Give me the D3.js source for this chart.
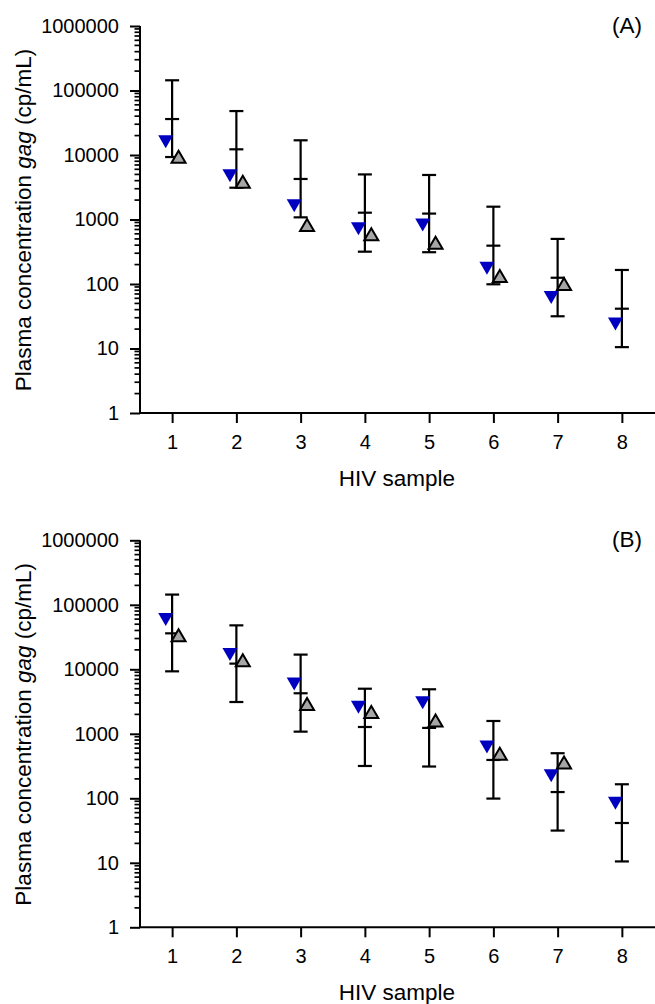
<!DOCTYPE html>
<html>
<head>
<meta charset="utf-8">
<script src="https://cdn.jsdelivr.net/npm/d3@7"></script>
<style>
  html, body { margin: 0; padding: 0; background: #fff; }
  svg text { font-family: Arial, "Liberation Sans", sans-serif; fill: #000; }
</style>
</head>
<body>
<svg id="chart" width="655" height="1004"></svg>
<script>
// ---- Data ----
const samples = [1, 2, 3, 4, 5, 6, 7, 8];
// Reference range (error bar): upper, middle, lower (same in both panels)
const rangeHigh = [144000, 48000, 16900, 5000, 4900, 1580, 500, 165];
const rangeMid  = [36100, 12250, 4250, 1275, 1235, 393, 125, 41.4];
const rangeLow  = [9300, 3110, 1080, 317, 311, 99, 31.6, 10.5];
// Panel A
const blueA = [16100, 4780, 1640, 720, 820, 175, 62, 24];
const grayA = [9400, 3860, 822, 590, 437, 133, 100, null];
// Panel B
const blueB = [59100, 16900, 5930, 2570, 3040, 624, 223, 84];
const grayB = [33700, 13800, 2900, 2180, 1610, 491, 360, null];
const yTickValues = [1, 10, 100, 1000, 10000, 100000, 1000000];
const xLabel = "HIV sample";
const panelLabels = ["(A)", "(B)"];

const svg = d3.select("#chart");

const x = d3.scaleLinear().domain([0.5, 8.5]).range([140, 654]);

function drawPanel(offsetY, blue, gray, label) {
  const g = svg.append("g").attr("transform", `translate(0,${offsetY})`);
  const y = d3.scaleLog().domain([1, 1000000]).range([413, 26]);

  // minor ticks
  const minor = [];
  for (let e = 0; e < 6; e++) for (let k = 2; k <= 9; k++) minor.push(k * Math.pow(10, e));
  g.append("g").selectAll("line").data(minor).join("line")
    .attr("x1", 134.5).attr("x2", 140)
    .attr("y1", d => y(d)).attr("y2", d => y(d))
    .attr("stroke", "#000").attr("stroke-width", 1.7);

  // y axis
  const yAxis = d3.axisLeft(y).tickValues(yTickValues).tickFormat(d3.format("d"))
    .tickSize(10).tickPadding(11).tickSizeOuter(0);
  const ya = g.append("g").attr("transform", "translate(140,0)").call(yAxis);
  ya.select(".domain").attr("stroke-width", 2).attr("d", `M0,${y(1000000)}V${y(1)}`);
  ya.selectAll(".tick line").attr("stroke-width", 2);
  ya.selectAll(".tick text").attr("font-size", 20).attr("font-family", "Arial, 'Liberation Sans', sans-serif");

  // x axis
  const xAxis = d3.axisBottom(x).tickValues(samples).tickFormat(d3.format("d"))
    .tickSize(10).tickPadding(12).tickSizeOuter(0);
  const xa = g.append("g").attr("transform", "translate(0,413)").call(xAxis);
  xa.select(".domain").attr("stroke-width", 2).attr("d", `M${x(0.5)-1},0H655`);
  xa.selectAll(".tick line").attr("stroke-width", 2);
  xa.selectAll(".tick text").attr("font-size", 20).attr("font-family", "Arial, 'Liberation Sans', sans-serif");

  // axis titles
  g.append("text").attr("x", 397).attr("y", 486).attr("text-anchor", "middle")
    .attr("font-size", 22.5).text(xLabel);
  const yt = g.append("text").attr("transform", "translate(31,220) rotate(-90)")
    .attr("text-anchor", "middle").attr("font-size", 22.5);
  yt.append("tspan").text("Plasma concentration ");
  yt.append("tspan").attr("font-style", "italic").text("gag");
  yt.append("tspan").text(" (cp/mL)");

  // panel label
  g.append("text").attr("x", 627).attr("y", 33).attr("text-anchor", "middle")
    .attr("font-size", 22.5).text(label);

  // error bars
  const eb = g.append("g").attr("stroke", "#000").attr("stroke-width", 2.2);
  samples.forEach((s, i) => {
    const cx = x(s);
    eb.append("line").attr("x1", cx).attr("x2", cx).attr("y1", y(rangeHigh[i])).attr("y2", y(rangeLow[i]));
    [rangeHigh[i], rangeMid[i], rangeLow[i]].forEach(v => {
      eb.append("line").attr("x1", cx - 7).attr("x2", cx + 7).attr("y1", y(v)).attr("y2", y(v));
    });
  });

  // blue down triangles
  g.append("g").selectAll("path").data(samples.map((s, i) => [s, blue[i]]).filter(d => d[1] != null)).join("path")
    .attr("d", d => {
      const cx = x(d[0] - 0.1), cy = y(d[1]);
      return `M${cx-7.5},${cy-6.5}L${cx+7.5},${cy-6.5}L${cx},${cy+6.5}Z`;
    })
    .attr("fill", "#0000c0");

  // gray up triangles
  g.append("g").selectAll("path").data(samples.map((s, i) => [s, gray[i]]).filter(d => d[1] != null)).join("path")
    .attr("d", d => {
      const cx = x(d[0] + 0.1), cy = y(d[1]);
      return `M${cx-7},${cy+6}L${cx+7},${cy+6}L${cx},${cy-6}Z`;
    })
    .attr("fill", "#a6a6a6").attr("stroke", "#000").attr("stroke-width", 2)
    .attr("stroke-linejoin", "miter");
}

drawPanel(0, blueA, grayA, panelLabels[0]);
drawPanel(514.3, blueB, grayB, panelLabels[1]);
</script>
</body>
</html>
